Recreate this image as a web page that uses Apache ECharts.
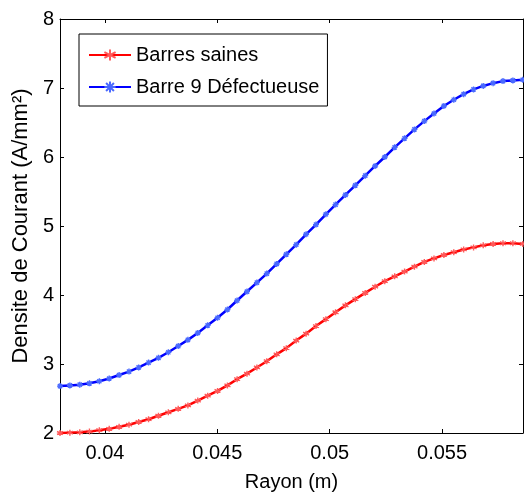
<!DOCTYPE html>
<html>
<head>
<meta charset="utf-8">
<script src="https://cdn.jsdelivr.net/npm/echarts@6/dist/echarts.min.js"></script>
<style>
  html, body { margin: 0; padding: 0; background: #fff; }
  #main { width: 524px; height: 497px; }
</style>
</head>
<body>
<div id="main"></div>
<script>
// Rayon (m)
const rayon = [
  0.03800, 0.03844, 0.03888, 0.03931, 0.03975, 0.04019, 0.04063, 0.04107,
  0.04150, 0.04194, 0.04238, 0.04282, 0.04326, 0.04369, 0.04413, 0.04457,
  0.04501, 0.04545, 0.04588, 0.04632, 0.04676, 0.04720, 0.04764, 0.04807,
  0.04851, 0.04895, 0.04939, 0.04983, 0.05026, 0.05070, 0.05114, 0.05158,
  0.05202, 0.05245, 0.05289, 0.05333, 0.05377, 0.05421, 0.05464, 0.05508,
  0.05552, 0.05596, 0.05640, 0.05683, 0.05727, 0.05771, 0.05815, 0.05859
];
// Barres saines
const saines = [
  2.00, 2.005, 2.01, 2.02, 2.04, 2.06, 2.09, 2.12,
  2.16, 2.20, 2.25, 2.30, 2.35, 2.40, 2.47, 2.54,
  2.61, 2.69, 2.78, 2.86, 2.95, 3.04, 3.14, 3.23,
  3.34, 3.44, 3.55, 3.65, 3.75, 3.85, 3.94, 4.03,
  4.12, 4.20, 4.27, 4.34, 4.41, 4.48, 4.53, 4.58,
  4.62, 4.66, 4.69, 4.72, 4.74, 4.75, 4.75, 4.74
];
// Barre 9 Défectueuse
const defect = [
  2.68, 2.69, 2.70, 2.72, 2.75, 2.79, 2.84, 2.89,
  2.95, 3.02, 3.09, 3.17, 3.26, 3.35, 3.45, 3.56,
  3.67, 3.79, 3.92, 4.05, 4.18, 4.31, 4.45, 4.59,
  4.73, 4.88, 5.02, 5.17, 5.31, 5.45, 5.59, 5.73,
  5.87, 6.00, 6.14, 6.27, 6.40, 6.52, 6.63, 6.74,
  6.83, 6.91, 6.98, 7.03, 7.07, 7.10, 7.11, 7.12
];
const xTicks = [0.04, 0.045, 0.05, 0.055];
const yTicks = [2, 3, 4, 5, 6, 7, 8];

const chart = echarts.init(document.getElementById("main"));

const font = 'Arial, "Liberation Sans", sans-serif';
const pts = (ys) => rayon.map((x, i) => [x, ys[i]]);
const asterisk = "path://M0,-5L0,5M-4.3,-2.5L4.3,2.5M-4.3,2.5L4.3,-2.5";
const cross = "path://M-5,0L5,0M0,-5L0,5M-3.5,-3.5L3.5,3.5M-3.5,3.5L3.5,-3.5";

const xBase = {
  type: "value",
  min: 0.038,
  max: 0.0586,
  axisLine: { lineStyle: { color: "#000", width: 1 } },
  axisTick: { inside: true, length: 4, customValues: xTicks, lineStyle: { color: "#000" } },
  splitLine: { show: false },
};
const yBase = {
  type: "value",
  min: yTicks[0],
  max: yTicks[yTicks.length - 1],
  interval: 1,
  axisLine: { show: true, lineStyle: { color: "#000", width: 1 } },
  axisTick: { show: true, inside: true, length: 4, lineStyle: { color: "#000" } },
  splitLine: { show: false },
};

const option = {
  animation: false,
  backgroundColor: "#fff",
  grid: { left: 60, right: 1, top: 19, bottom: 64 },
  legend: {
    orient: "vertical",
    left: 79,
    top: 34,
    padding: [11, 8, 9, 9],
    itemGap: 12,
    itemWidth: 42,
    itemHeight: 14,
    borderColor: "#000",
    borderWidth: 1,
    backgroundColor: "#fff",
    textStyle: { fontFamily: font, fontSize: 20, color: "#000", lineHeight: 20 },
    data: ["Barres saines", "Barre 9 Défectueuse"],
  },
  xAxis: [
    Object.assign({}, xBase, {
      position: "bottom",
      name: "Rayon (m)",
      nameLocation: "middle",
      nameGap: 39,
      nameTextStyle: { fontFamily: font, fontSize: 20, color: "#000" },
      axisLabel: {
        customValues: xTicks,
        margin: 10,
        fontFamily: font,
        fontSize: 20,
        color: "#000",
        formatter: (v) => String(v),
      },
    }),
    Object.assign({}, xBase, { position: "top", axisLabel: { show: false } }),
  ],
  yAxis: [
    Object.assign({}, yBase, {
      position: "left",
      name: "Densite de Courant (A/mm²)",
      nameLocation: "middle",
      nameGap: 21,
      nameTextStyle: { fontFamily: font, fontSize: 22, color: "#000" },
      axisLabel: { margin: 6, fontFamily: font, fontSize: 20, color: "#000" },
    }),
    Object.assign({}, yBase, { position: "right", axisLabel: { show: false } }),
  ],
  series: [
    {
      name: "Barres saines",
      type: "line",
      data: pts(saines),
      symbol: asterisk,
      symbolSize: 6,
      showAllSymbol: true,
      lineStyle: { color: "#ff0000", width: 2.5 },
      itemStyle: { color: "#ff0000", borderColor: "#ff5a5a", borderWidth: 1.4 },
    },
    {
      name: "Barre 9 Défectueuse",
      type: "line",
      data: pts(defect),
      symbol: cross,
      symbolSize: 6,
      showAllSymbol: true,
      lineStyle: { color: "#0000ff", width: 2.5 },
      itemStyle: { color: "#0000ff", borderColor: "#4a6aff", borderWidth: 1.4 },
    },
  ],
};

chart.setOption(option);
</script>
</body>
</html>
